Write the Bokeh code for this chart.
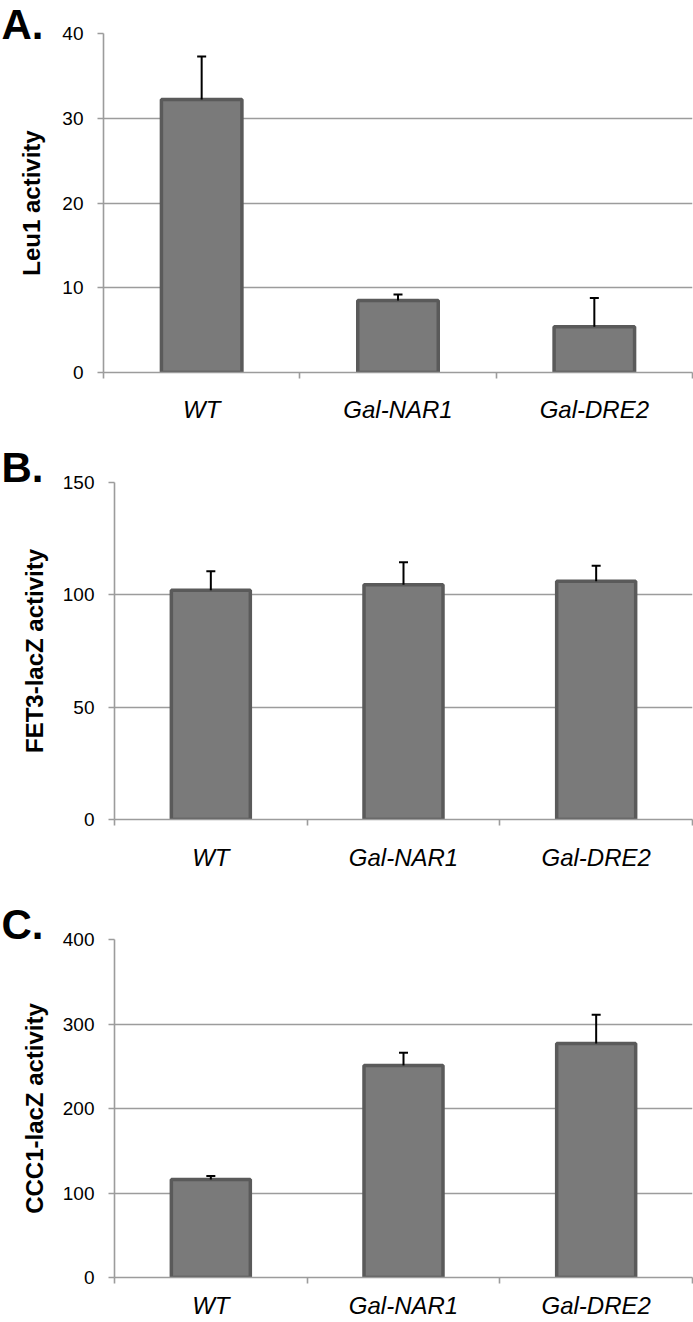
from bokeh.plotting import figure
from bokeh.models import (ColumnDataSource, Whisker, TeeHead, FixedTicker, Range1d, Title)
from bokeh.embed import file_html
from bokeh.resources import INLINE

categories = ["WT", "Gal-NAR1", "Gal-DRE2"]

leu1_values = [32.2, 8.5, 5.4]
leu1_errors = [5.1, 0.7, 3.4]

fet3_values = [102, 104.5, 106]
fet3_errors = [8.5, 10.0, 7.0]

ccc1_values = [116, 251, 277]
ccc1_errors = [4, 15, 34]

leu1_ticks = [0, 10, 20, 30, 40]
fet3_ticks = [0, 50, 100, 150]
ccc1_ticks = [0, 100, 200, 300, 400]

FONT = "Liberation Sans"
GRID = "#9c9c9c"
W = 693


def make_panel(letter, letter_valign, letter_standoff, ylabel, values, errors, yticks,
               height, left, top, bottom, label_standoff, ylabel_standoff):
    xs = [i + 0.5 for i in range(len(categories))]
    tops = [v + e for v, e in zip(values, errors)]
    src = ColumnDataSource(dict(x=xs, y=values, top=tops))
    p = figure(width=W, height=height, output_backend="svg", toolbar_location=None,
               x_range=Range1d(0, len(categories)), y_range=Range1d(yticks[0], yticks[-1]),
               min_border_left=left, min_border_right=1, min_border_top=top,
               min_border_bottom=bottom)
    p.outline_line_color = None
    p.background_fill_color = "white"
    p.border_fill_color = "white"
    p.xgrid.visible = False
    p.ygrid.grid_line_color = GRID
    p.ygrid.grid_line_width = 1.6
    p.ygrid.ticker = FixedTicker(ticks=yticks)

    p.vbar(x="x", top="y", bottom=0, width=0.41, source=src,
           fill_color="#7a7a7a", line_color="#5a5a5a", line_width=3.5)
    w = Whisker(base="x", lower="y", upper="top", source=src, dimension="height",
                line_color="black", line_width=2, level="overlay",
                upper_head=TeeHead(size=9, line_color="black", line_width=2),
                lower_head=None)
    p.add_layout(w)

    xa = p.xaxis[0]
    xa.ticker = FixedTicker(ticks=xs, minor_ticks=list(range(len(categories) + 1)))
    xa.major_label_overrides = {x: c for x, c in zip(xs, categories)}
    xa.major_tick_line_color = None
    xa.major_tick_out = 0
    xa.major_tick_in = 0
    xa.minor_tick_line_color = GRID
    xa.minor_tick_line_width = 1.6
    xa.minor_tick_out = 6
    xa.minor_tick_in = 0
    xa.axis_line_color = GRID
    xa.axis_line_width = 1.6
    xa.major_label_text_font = FONT
    xa.major_label_text_font_style = "italic"
    xa.major_label_text_font_size = "24px"
    xa.major_label_text_color = "black"
    xa.major_label_standoff = label_standoff

    ya = p.yaxis[0]
    ya.ticker = FixedTicker(ticks=yticks)
    ya.axis_line_color = GRID
    ya.axis_line_width = 1.6
    ya.major_tick_line_color = GRID
    ya.major_tick_line_width = 1.6
    ya.major_tick_out = 6
    ya.major_tick_in = 0
    ya.minor_tick_line_color = None
    ya.major_label_text_font = FONT
    ya.major_label_text_font_size = "19px"
    ya.major_label_text_color = "black"
    ya.major_label_standoff = 14
    ya.axis_label = ylabel
    ya.axis_label_text_font = FONT
    ya.axis_label_text_font_style = "bold"
    ya.axis_label_text_font_size = "24px"
    ya.axis_label_text_color = "black"
    ya.axis_label_standoff = ylabel_standoff

    # panel letter as a title pulled to the left edge of the figure
    p.add_layout(Title(text=letter, align="left", offset=-(left - 1),
                       vertical_align=letter_valign, standoff=letter_standoff,
                       text_font=FONT, text_font_style="bold", text_font_size="42px",
                       text_color="black"), "above")
    return p


pA = make_panel("A.", "middle", -31, "Leu1 activity", leu1_values, leu1_errors, leu1_ticks,
                440, 103, 33, 68, 17, 14)
pB = make_panel("B.", "top", -20, "FET3-lacZ activity", fet3_values, fet3_errors, fet3_ticks,
                453, 114, 42, 74, 18, 12)
pC = make_panel("C.", "top", -20, "CCC1-lacZ activity", ccc1_values, ccc1_errors, ccc1_ticks,
                429, 114, 46, 45, 8, 12)

open("out.html", "w").write(file_html([pA, pB, pC], INLINE))
